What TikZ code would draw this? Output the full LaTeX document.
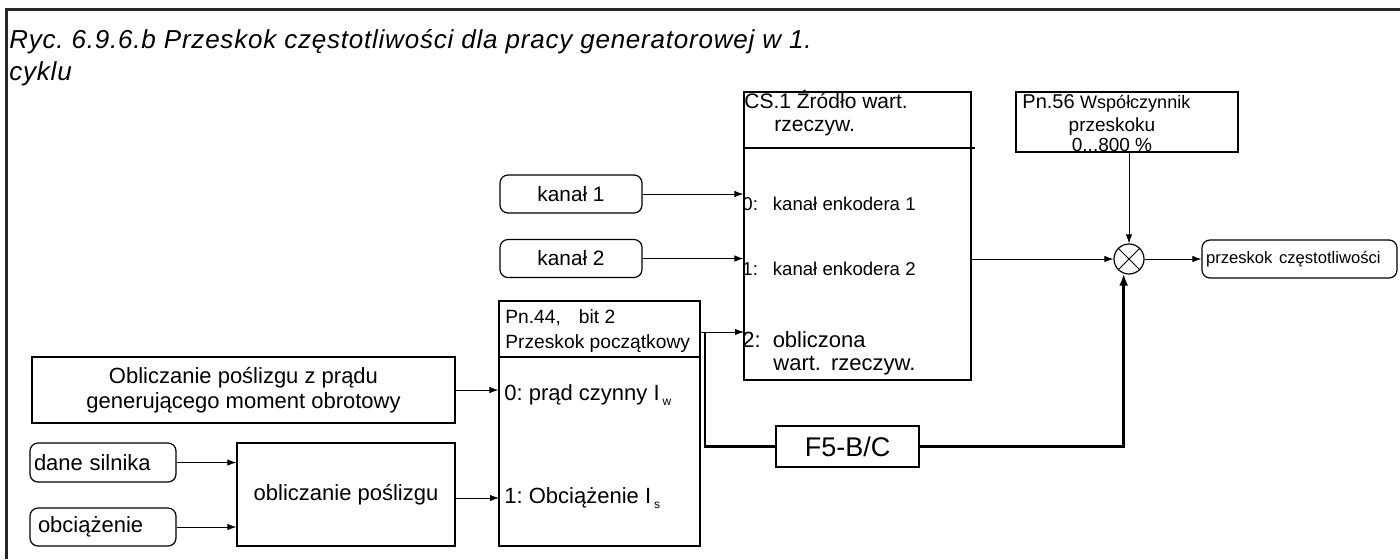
\documentclass[tikz,border=0pt]{standalone}
\usepackage{fontspec}
\setmainfont{Liberation Sans}
\usetikzlibrary{arrows.meta}
\frenchspacing
\newcommand\fsz[1]{\fontsize{#1}{#1}\selectfont}
\newcommand\sub[1]{\hspace{1.5pt}\raisebox{-2.5pt}{\fsz{6}#1}}

\begin{document}
\begin{tikzpicture}[x=0.5pt,y=-0.5pt,>={Latex[length=4.5pt,width=3.2pt]},
	box/.style={draw,line width=0.6pt,inner sep=0pt},
	pill/.style={box,rounded corners=4pt},
	txt/.style={inner sep=0pt,anchor=base west},
	title/.style={txt,font=\fsz{13}\itshape\addfontfeature{LetterSpace=3}},
	fb/.style={line width=1.4pt,>={Latex[length=6pt,width=4.5pt]}}]
	\useasboundingbox (0,0) rectangle (1400,559);
	\draw[line width=1.5pt,black!85] (6,559)--(6,9)--(1400,9);
	\node[title] (tt1) at (9,48) {Ryc. 6.9.6.b Przeskok częstotliwości dla pracy generatorowej w 1.};
	\node[title] (tt2) at (9,80) {cyklu};
	% zrodlo wartosci rzeczywistej
	\node[box,minimum width=113.5pt,minimum height=144pt] (cs) at (857.5,236) {};
	\draw[line width=0.6pt] (744,148)--(975,148);
	\node[txt] (csa) at (744,108) {\fsz{10.5}CS.1 Źródło wart.};
	\node[txt] (csb) at (774,131) {\fsz{10.5}rzeczyw.};
	\node[txt] (cs0) at (742,210) {\fsz{9.3}0:\hspace{7.5pt}kanał enkodera 1};
	\node[txt] (cs1) at (742,275) {\fsz{9.3}1:\hspace{7.5pt}kanał enkodera 2};
	\node[txt] (cs2) at (742,347) {\fsz{11}2:\hspace{6pt}obliczona};
	\node[txt] (cs3) at (773,370) {\fsz{11}wart.\hspace{5pt}rzeczyw.};
	\node[pill,minimum width=71pt,minimum height=19pt] (k1) at (571,194) {\fsz{10.4}kanał 1};
	\node[pill,minimum width=71pt,minimum height=19pt] (k2) at (571,258.5) {\fsz{10.4}kanał 2};
	% wspolczynnik i wyjscie
	\node[box,minimum width=111pt,minimum height=30pt] (pn56) at (1127,122) {};
	\node[txt] (pa) at (1022,108) {\fsz{10}Pn.56 \fsz{9}Współczynnik};
	\node[inner sep=0pt,anchor=base] (pb) at (1112,131) {\fsz{9.5}przeskoku};
	\node[inner sep=0pt,anchor=base] (pc) at (1112,151) {\fsz{9.5}0...800 \%};
	\node[draw,circle,line width=0.6pt,minimum size=15pt,inner sep=0pt] (mul) at (1129,259) {};
	\draw[line width=0.5pt] (mul.45)--(mul.225) (mul.135)--(mul.315);
	\node[pill,text width=93.5pt,inner xsep=2pt,minimum height=19pt,align=left] (out) at (1299.5,259) {\fsz{8.3}przeskok częstotliwości};
	% przeskok poczatkowy
	\node[box,minimum width=100.5pt,minimum height=122.5pt] (pn44) at (599.5,423.5) {};
	\draw[line width=0.6pt] (499,357)--(700,357);
	\node[txt] (ha) at (505,323) {\fsz{9.6}Pn.44,\hspace{9pt}bit 2};
	\node[txt] (hb) at (505,348) {\fsz{9.6}Przeskok początkowy};
	\node[txt] (i0) at (504,400) {\fsz{11}0: prąd czynny I\sub{w}};
	\node[txt] (i1) at (504,503) {\fsz{11}1: Obciążenie I\sub{s}};
	\node[box,minimum width=211.5pt,minimum height=33pt,align=center,font=\fontsize{11}{12.5}\selectfont] (obl) at (243.5,390) {Obliczanie poślizgu z prądu\\generującego moment obrotowy};
	\node[pill,text width=69pt,inner xsep=2pt,minimum height=19.5pt,align=left] (dane) at (103,462.5) {\fsz{11}dane silnika};
	\node[pill,text width=69pt,inner xsep=2pt,minimum height=19pt,align=left] (obc) at (103,527) {\fsz{11}\hspace{2pt}obciążenie};
	\node[box,minimum width=109pt,minimum height=51.5pt] (pos) at (346,494.5) {\fsz{11}obliczanie poślizgu};
	\node[box,line width=1.2pt,minimum width=71.5pt,minimum height=20.5pt] (f5) at (847.5,446.5) {\fsz{13.5}F5-B/C};
	\coordinate (in2) at (744,332);
	\coordinate (in1) at (499,498);
	\coordinate (tap) at (705,332);
	% polaczenia
	\draw[->] (k1)--(k1 -| cs.west);
	\draw[->] (k2)--(k2 -| cs.west);
	\draw[->] (pn44.east |- in2)--(in2);
	\draw[->] (mul -| cs.east)--(mul);
	\draw[->] (mul |- pn56.south)--(mul);
	\draw[->] (mul)--(out);
	\draw[->] (obl)--(obl -| pn44.west);
	\draw[->] (dane)--(dane -| pos.west);
	\draw[->] (obc)--(obc -| pos.west);
	\draw[->] (in1 -| pos.east)--(in1);
	\draw[fb] (tap) |- (f5);
	\draw[fb,->] (f5) -| (mul.250);
\end{tikzpicture}
\end{document}
